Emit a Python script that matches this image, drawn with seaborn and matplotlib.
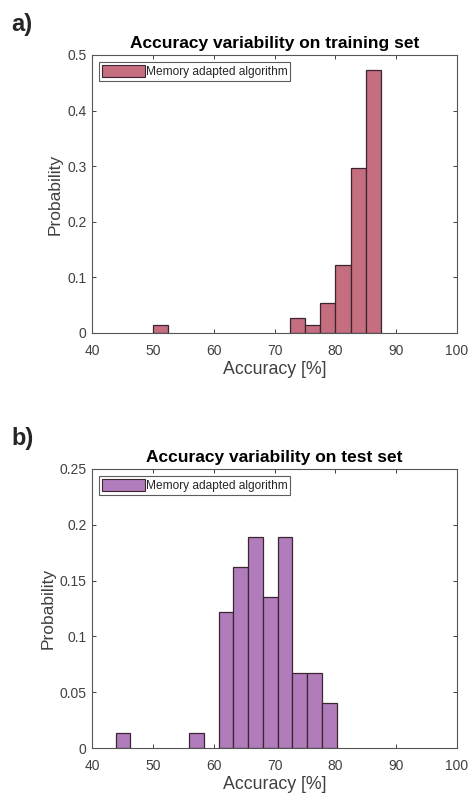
import numpy as np
import pandas as pd
import seaborn as sns
import matplotlib
matplotlib.use("Agg")
import matplotlib.pyplot as plt
from matplotlib.patches import Patch

# ---- data ----
train_bin_left = [50.0, 52.5, 55.0, 57.5, 60.0, 62.5, 65.0, 67.5, 70.0, 72.5, 75.0, 77.5, 80.0, 82.5, 85.0]
train_prob     = [0.0135, 0, 0, 0, 0, 0, 0, 0, 0, 0.027, 0.0135, 0.054, 0.1216, 0.297, 0.473]
train_width = 2.5

test_bin_left = [43.9, 46.32, 48.74, 51.16, 53.58, 56.0, 58.42, 60.84, 63.26, 65.68, 68.1, 70.52, 72.94, 75.36, 77.78]
test_prob     = [0.0135, 0, 0, 0, 0, 0.0135, 0, 0.1216, 0.162, 0.189, 0.135, 0.189, 0.0676, 0.0676, 0.0405]
test_width = 2.42

xticks = [40, 50, 60, 70, 80, 90, 100]
train_yticks = [0, 0.1, 0.2, 0.3, 0.4, 0.5]
train_yticklabels = ["0", "0.1", "0.2", "0.3", "0.4", "0.5"]
test_yticks = [0, 0.05, 0.1, 0.15, 0.2, 0.25]
test_yticklabels = ["0", "0.05", "0.1", "0.15", "0.2", "0.25"]

legend_label = "Memory adapted algorithm"
titles = ["Accuracy variability on training set", "Accuracy variability on test set"]
panel_labels = ["a)", "b)"]

sns.set_theme(style="white")
plt.rcParams['font.family'] = ['Liberation Sans', 'DejaVu Sans']

W, H = 472, 796
fig = plt.figure(figsize=(W / 100, H / 100), dpi=100)

def ax_rect(l, t, r, b):
    return [l / W, 1 - b / H, (r - l) / W, (b - t) / H]

ax1 = fig.add_axes(ax_rect(92, 55, 457, 333))
ax2 = fig.add_axes(ax_rect(92, 469, 457, 748))

grey = "#404040"
edge = "#3a2530"

def draw(ax, lefts, probs, width, color, yticks, yticklabels, ymax, title):
    lefts = np.array(lefts, dtype=float)
    edges = [float(v) for v in np.append(lefts, lefts[-1] + width)]
    df = pd.DataFrame({"x": lefts + width / 2, "w": np.array(probs, dtype=float)})
    sns.histplot(data=df, x="x", weights="w", bins=edges, ax=ax, stat="count",
                 color=color, alpha=1, edgecolor=edge, linewidth=0.9)
    for p in ax.patches:
        if p.get_height() <= 0:
            p.set_visible(False)
    ax.set_xlim(40, 100)
    ax.set_ylim(0, ymax)
    ax.set_xticks(xticks)
    ax.set_xticklabels([str(t) for t in xticks])
    ax.set_yticks(yticks)
    ax.set_yticklabels(yticklabels)
    ax.tick_params(direction="in", length=3, width=0.7, colors=grey, labelcolor=grey,
                   labelsize=10, top=True, right=True, bottom=True, left=True)
    ax.tick_params(axis="x", labeltop=False, pad=8)
    ax.tick_params(axis="y", labelright=False, pad=4)
    for s in ax.spines.values():
        s.set_color("#555555")
        s.set_linewidth(0.8)
        s.set_visible(True)
    ax.set_xlabel("Accuracy [%]", fontsize=12.8, color=grey, labelpad=2)
    ax.set_ylabel("Probability", fontsize=12.5, color=grey, labelpad=3)
    ax.set_title(title, fontsize=12.5, fontweight="bold", color="black", pad=5)
    leg = ax.legend(handles=[Patch(facecolor=color, edgecolor=edge, linewidth=0.8, label=legend_label)],
                    loc="upper left", fontsize=8.6, frameon=True, fancybox=False,
                    borderaxespad=0.55, handlelength=3.6, handleheight=1.25, handletextpad=0.1,
                    borderpad=0.25)
    leg.get_frame().set_edgecolor("#333333")
    leg.get_frame().set_linewidth(0.8)

draw(ax1, train_bin_left, train_prob, train_width, "#C46E80", train_yticks, train_yticklabels, 0.5, titles[0])
draw(ax2, test_bin_left, test_prob, test_width, "#B07CBC", test_yticks, test_yticklabels, 0.25, titles[1])

fig.text(11 / W, 1 - 24 / H, panel_labels[0], fontsize=17, fontweight="bold", va="center", ha="left")
fig.text(11 / W, 1 - 438 / H, panel_labels[1], fontsize=17, fontweight="bold", va="center", ha="left")

fig.savefig("out.png", dpi=100, facecolor="white")
